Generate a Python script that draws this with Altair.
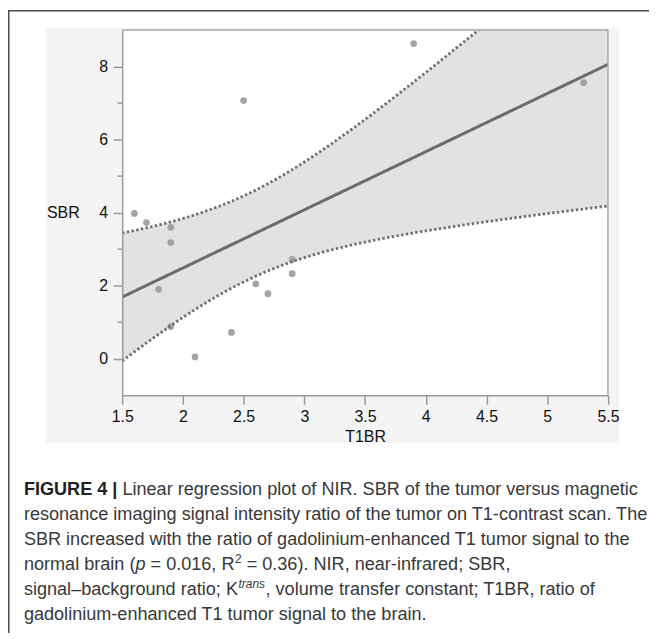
import altair as alt
import numpy as np
import pandas as pd

# ---------------- data ----------------
t1br = [1.6, 1.7, 1.9, 1.9, 1.8, 1.9, 2.1, 2.4, 2.6, 2.7, 2.9, 2.9, 2.5, 3.9, 5.3]
sbr = [3.98, 3.73, 3.60, 3.18, 1.90, 0.88, 0.05, 0.72, 2.05, 1.78, 2.72, 2.33, 7.07, 8.63, 7.56]
x_ticks = [1.5, 2, 2.5, 3, 3.5, 4, 4.5, 5, 5.5]
y_ticks = [0, 2, 4, 6, 8]
y_minor = [1, 3, 5, 7]
x_domain = [1.5, 5.5]
y_domain = [-1, 9]

caption_bold = "FIGURE 4 |"
caption_l1 = "Linear regression plot of NIR. SBR of the tumor versus magnetic"
caption_l2 = "resonance imaging signal intensity ratio of the tumor on T1-contrast scan. The"
caption_l3 = "SBR increased with the ratio of gadolinium-enhanced T1 tumor signal to the"
caption_l4 = ["normal brain (", "p", "= 0.016, R", "2", "= 0.36). NIR, near-infrared; SBR,"]
caption_l5 = ["signal\u2013background ratio; K", "trans", ", volume transfer constant; T1BR, ratio of"]
caption_l6 = "gadolinium-enhanced T1 tumor signal to the brain."

# ---------------- regression fit with 95% CI of the mean ----------------
xa = np.array(t1br)
ya = np.array(sbr)
n = len(xa)
slope, intercept = np.polyfit(xa, ya, 1)
resid = ya - (intercept + slope * xa)
s = np.sqrt(np.sum(resid ** 2) / (n - 2))
sxx = np.sum((xa - xa.mean()) ** 2)
tcrit = 2.1604  # t(0.975, df=13)
grid = np.linspace(x_domain[0], x_domain[1], 201)
fit = intercept + slope * grid
half = tcrit * s * np.sqrt(1.0 / n + (grid - xa.mean()) ** 2 / sxx)
band = pd.DataFrame({"T1BR": grid, "fit": fit, "lo": fit - half, "hi": fit + half})
pts = pd.DataFrame({"T1BR": t1br, "SBR": sbr})
minor = pd.DataFrame({"SBR": y_minor})
one = pd.DataFrame({"k": [0]})

# ---------------- layout (px) ----------------
W, H = 488.8, 367.4
PAD_L, PAD_T = 114.9, 20.3
SVG_W, SVG_H = 645, 625
OX, OY = PAD_L + 8, PAD_T + 8  # page offset of plot origin
AX = "#9a9a9a"
FONT = "Liberation Sans"

xs = alt.Scale(domain=x_domain, nice=False, zero=False)
ys = alt.Scale(domain=y_domain, nice=False, zero=False)

x_axis = alt.Axis(values=x_ticks, format="~g", tickSize=9, tickColor=AX, tickWidth=1.5,
                  domainColor=AX, domainWidth=1.5, grid=False, labelFont=FONT,
                  labelFontSize=16, labelColor="#111", labelBaseline="middle",
                  labelPadding=12, labelFlush=False, labelOverlap=False,
                  title="T1BR", titleFont=FONT, titleFontSize=16, titleFontWeight="normal",
                  titleColor="#111", titleBaseline="middle", titleY=41.6, zindex=1)
y_axis = alt.Axis(values=y_ticks, tickSize=9, tickColor=AX, tickWidth=1.5,
                  domainColor=AX, domainWidth=1.5, grid=False, labelFont=FONT,
                  labelFontSize=16, labelColor="#111", labelPadding=5.6,
                  labelFlush=False, labelOverlap=False,
                  title="SBR", titleFont=FONT, titleFontSize=16, titleFontWeight="normal",
                  titleColor="#111", titleAngle=0, titleAlign="left", titleBaseline="middle",
                  titleX=-76.2, titleY=183.7, zindex=1)


def X(field="T1BR"):
    return alt.X(f"{field}:Q", scale=xs, axis=x_axis)


def Y(field):
    return alt.Y(f"{field}:Q", scale=ys, axis=y_axis)


def box(x, x2, y, y2, color):
    return alt.Chart(one).mark_rect(color=color).encode(
        x=alt.value(x), x2=alt.value(x2), y=alt.value(y), y2=alt.value(y2))


panel = box(46 - OX, 623 - OX, 26 - OY, 443.5 - OY, "#f4f4f4")
plotbg = box(0, W, 0, H, "#ffffff")

frame_top = alt.Chart(one).mark_rule(color="#4a4a4a", strokeWidth=1.5).encode(
    x=alt.value(-PAD_L), x2=alt.value(SVG_W), y=alt.value(-PAD_T + 0.75))
frame_left = alt.Chart(one).mark_rule(color="#4a4a4a", strokeWidth=1.5).encode(
    x=alt.value(-PAD_L + 0.75), y=alt.value(-PAD_T), y2=alt.value(SVG_H))
border_top = alt.Chart(one).mark_rule(color="#a8a8a8", strokeWidth=1.5).encode(
    x=alt.value(0), x2=alt.value(W), y=alt.value(0))
border_right = alt.Chart(one).mark_rule(color="#a8a8a8", strokeWidth=1.5).encode(
    x=alt.value(W), y=alt.value(0), y2=alt.value(H))

DASH = [2.4, 2.4]
area = alt.Chart(band).mark_area(color="#e2e2e2", clip=True).encode(
    x=X(), y=Y("lo"), y2="hi:Q")
lo_line = alt.Chart(band).mark_line(color="#6e6e6e", strokeWidth=2.8, strokeDash=DASH,
                                    clip=True).encode(x=X(), y=Y("lo"))
hi_line = alt.Chart(band).mark_line(color="#6e6e6e", strokeWidth=2.8, strokeDash=DASH,
                                    clip=True).encode(x=X(), y=Y("hi"))
fit_line = alt.Chart(band).mark_line(color="#6b6b6b", strokeWidth=3, clip=True).encode(
    x=X(), y=Y("fit"))
points = alt.Chart(pts).mark_circle(color="#a3a3a3", size=46, opacity=1).encode(
    x=X(), y=Y("SBR"))
minor_ticks = alt.Chart(minor).mark_rule(color=AX, strokeWidth=1.5).encode(
    y=Y("SBR"), x=alt.value(-4.7), x2=alt.value(0))

# ---------------- caption ----------------
REG = {' ': 278, '(': 333, ')': 333, ',': 278, '-': 333, '.': 278, ';': 278, '=': 584,
       '|': 260, '\u2013': 556, '2': 556,
       'A': 667, 'B': 667, 'C': 722, 'D': 722, 'E': 667, 'F': 611, 'G': 778, 'H': 722,
       'I': 278, 'K': 667, 'L': 556, 'M': 833, 'N': 722, 'O': 778, 'P': 667, 'R': 722,
       'S': 667, 'T': 611,
       'a': 556, 'b': 556, 'c': 500, 'd': 556, 'e': 556, 'f': 278, 'g': 556, 'h': 556,
       'i': 222, 'j': 222, 'k': 500, 'l': 222, 'm': 833, 'n': 556, 'o': 556, 'p': 556,
       'q': 556, 'r': 333, 's': 500, 't': 278, 'u': 556, 'v': 500, 'w': 722, 'x': 500,
       'y': 500, 'z': 500}
BOLD = {'F': 611, 'I': 278, 'G': 778, 'U': 722, 'R': 722, 'E': 667, ' ': 278, '4': 556,
        '|': 280}


def tw(s, size, table=REG):
    return sum(table.get(c, 556) for c in s) * size / 1000.0


FS = 18.2
SUP = 12
CX = 24
LINE_Y = [491.5, 516.5, 541.5, 566.5, 591.5, 616.5]
TXT = "#383838"


def txt(s, x, y, size=FS, weight="normal", style="normal", color=TXT):
    return alt.Chart(one).mark_text(align="left", baseline="middle", font=FONT,
                                    fontSize=size, fontWeight=weight, fontStyle=style,
                                    color=color).encode(
        x=alt.value(x - OX), y=alt.value(y - OY), text=alt.value(s))


cap = []
# line 1
cap.append(txt(caption_bold, CX, LINE_Y[0], weight="bold", color="#222222"))
x1 = CX + tw(caption_bold, FS, BOLD) + tw(" ", FS)
cap.append(txt(caption_l1, x1, LINE_Y[0]))
cap.append(txt(caption_l2, CX, LINE_Y[1]))
cap.append(txt(caption_l3, CX, LINE_Y[2]))
# line 4
a, p, b, two, c = caption_l4
xx = CX
cap.append(txt(a, xx, LINE_Y[3]))
xx += tw(a, FS)
cap.append(txt(p, xx, LINE_Y[3], style="italic"))
xx += tw(p, FS) + tw(" ", FS)
cap.append(txt(b, xx, LINE_Y[3]))
xx += tw(b, FS)
cap.append(txt(two, xx + 0.5, LINE_Y[3] - 6, size=SUP))
xx += tw(two, SUP) + 0.5 + tw(" ", FS)
cap.append(txt(c, xx, LINE_Y[3]))
# line 5
a, sup, c = caption_l5
xx = CX
cap.append(txt(a, xx, LINE_Y[4]))
xx += tw(a, FS)
cap.append(txt(sup, xx + 0.5, LINE_Y[4] - 6, size=SUP, style="italic"))
xx += tw(sup, SUP) + 1.0
cap.append(txt(c, xx, LINE_Y[4]))
cap.append(txt(caption_l6, CX, LINE_Y[5]))

chart = alt.layer(
    panel, plotbg, area, points, lo_line, hi_line, fit_line, minor_ticks,
    border_top, border_right, frame_top, frame_left, *cap
).properties(
    width=W, height=H,
    autosize=alt.AutoSizeParams(type="none"),
    padding={"left": PAD_L, "top": PAD_T, "right": SVG_W - PAD_L - W,
             "bottom": SVG_H - PAD_T - H},
).configure_view(strokeWidth=0)

chart.save("out.html", embed_options={"renderer": "svg", "actions": False})
